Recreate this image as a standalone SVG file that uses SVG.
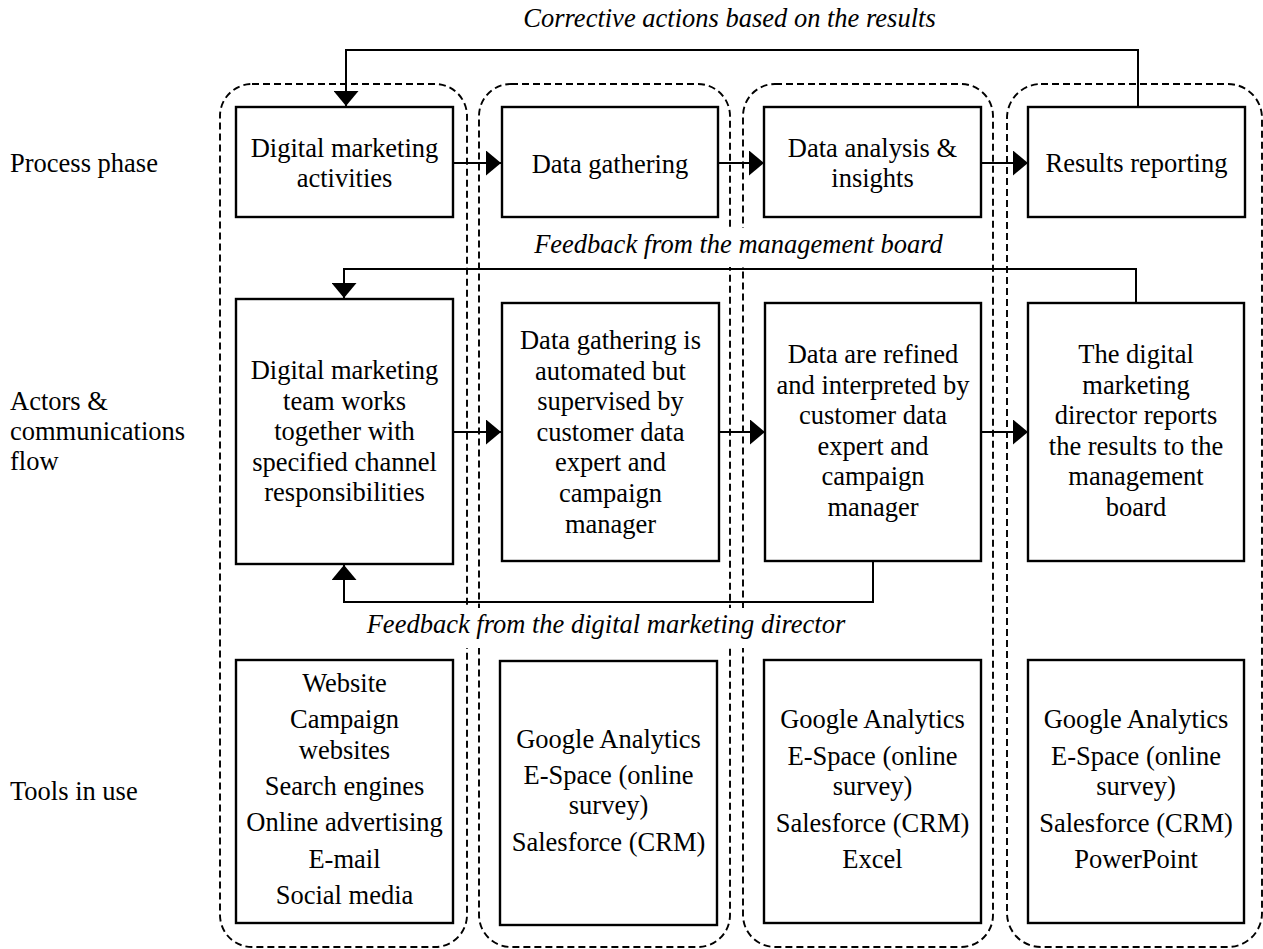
<svg xmlns="http://www.w3.org/2000/svg" width="1263" height="949" viewBox="0 0 1263 949">
<style>
text{font-family:"Liberation Serif","Times New Roman",serif;font-size:26.5px;fill:#000}
.c{text-anchor:middle}
.i{font-style:italic}
.grp{fill:none;stroke:#000;stroke-width:1.9;stroke-dasharray:7 4}
.box{fill:#fff;stroke:#000;stroke-width:2.4}
.con{fill:none;stroke:#000;stroke-width:2}
.bg{fill:#fff}
</style>
<defs>
<marker id="ah" viewBox="0 0 15 25" refX="15" refY="12.5" markerWidth="15" markerHeight="25" markerUnits="userSpaceOnUse" orient="auto">
<path d="M0,0 L15,12.5 L0,25 Z" fill="#000"/>
</marker>
</defs>
<rect width="1263" height="949" fill="#fff"/>

<g id="groups">
<rect id="g1" class="grp" x="220" y="84" width="247" height="863" rx="32" ry="32"/>
<rect id="g2" class="grp" x="479" y="84" width="251" height="863" rx="32" ry="32"/>
<rect id="g3" class="grp" x="743" y="84" width="250" height="863" rx="32" ry="32"/>
<rect id="g4" class="grp" x="1007" y="84" width="255" height="863" rx="34" ry="34"/>
</g>

<g id="row-labels">
<text x="10" y="172">Process phase</text>
<text x="10" y="410">Actors &amp;</text>
<text x="10" y="440">communications</text>
<text x="10" y="470">flow</text>
<text x="10" y="800">Tools in use</text>
</g>

<g id="connector-labels">
<text class="c i" x="729.5" y="27">Corrective actions based on the results</text>
<rect class="bg" x="528" y="228" width="422" height="39"/>
<text class="c i" x="738.5" y="253">Feedback from the management board</text>
<rect class="bg" x="360" y="608" width="492" height="40"/>
<text class="c i" x="606" y="633">Feedback from the digital marketing director</text>
</g>

<g id="connectors">
<path class="con" d="M1138,107 V50 H346 V106" marker-end="url(#ah)"/>
<path class="con" d="M453,163 H501" marker-end="url(#ah)"/>
<path class="con" d="M718,163 H764" marker-end="url(#ah)"/>
<path class="con" d="M981,163 H1028" marker-end="url(#ah)"/>
<path class="con" d="M1136,303 V269 H344 V298" marker-end="url(#ah)"/>
<path class="con" d="M453,432 H501" marker-end="url(#ah)"/>
<path class="con" d="M719,432 H765" marker-end="url(#ah)"/>
<path class="con" d="M981,432 H1028" marker-end="url(#ah)"/>
<path class="con" d="M873,561 V602 H344 V565" marker-end="url(#ah)"/>
</g>

<g id="n-digital-marketing-activities">
<rect class="box" x="236" y="107" width="217" height="110"/>
<text class="c" x="344.5" y="157">Digital marketing</text>
<text class="c" x="344.5" y="187">activities</text>
</g>
<g id="n-data-gathering">
<rect class="box" x="502" y="107" width="216" height="110"/>
<text class="c" x="610" y="173">Data gathering</text>
</g>
<g id="n-data-analysis">
<rect class="box" x="764" y="107" width="217" height="110"/>
<text class="c" x="872.5" y="157">Data analysis &amp;</text>
<text class="c" x="872.5" y="187">insights</text>
</g>
<g id="n-results-reporting">
<rect class="box" x="1028" y="107" width="217" height="110"/>
<text class="c" x="1136.5" y="172">Results reporting</text>
</g>

<g id="n-team">
<rect class="box" x="236" y="299" width="217" height="265"/>
<text class="c" x="344.5" y="379">Digital marketing</text>
<text class="c" x="344.5" y="409.6">team works</text>
<text class="c" x="344.5" y="440.2">together with</text>
<text class="c" x="344.5" y="470.8">specified channel</text>
<text class="c" x="344.5" y="501.4">responsibilities</text>
</g>
<g id="n-gathering-automated">
<rect class="box" x="502" y="303" width="217" height="258"/>
<text class="c" x="610.5" y="349">Data gathering is</text>
<text class="c" x="610.5" y="379.6">automated but</text>
<text class="c" x="610.5" y="410.2">supervised by</text>
<text class="c" x="610.5" y="440.8">customer data</text>
<text class="c" x="610.5" y="471.4">expert and</text>
<text class="c" x="610.5" y="502">campaign</text>
<text class="c" x="610.5" y="532.6">manager</text>
</g>
<g id="n-refined">
<rect class="box" x="765" y="303" width="216" height="258"/>
<text class="c" x="873" y="363">Data are refined</text>
<text class="c" x="873" y="393.6">and interpreted by</text>
<text class="c" x="873" y="424.2">customer data</text>
<text class="c" x="873" y="454.8">expert and</text>
<text class="c" x="873" y="485.4">campaign</text>
<text class="c" x="873" y="516">manager</text>
</g>
<g id="n-director">
<rect class="box" x="1028" y="303" width="216" height="258"/>
<text class="c" x="1136" y="363">The digital</text>
<text class="c" x="1136" y="393.6">marketing</text>
<text class="c" x="1136" y="424.2">director reports</text>
<text class="c" x="1136" y="454.8">the results to the</text>
<text class="c" x="1136" y="485.4">management</text>
<text class="c" x="1136" y="516">board</text>
</g>

<g id="n-tools-1">
<rect class="box" x="236" y="660" width="217" height="263"/>
<text class="c" x="344.5" y="692">Website</text>
<text class="c" x="344.5" y="728">Campaign</text>
<text class="c" x="344.5" y="758.5">websites</text>
<text class="c" x="344.5" y="795">Search engines</text>
<text class="c" x="344.5" y="831">Online advertising</text>
<text class="c" x="344.5" y="867.5">E-mail</text>
<text class="c" x="344.5" y="903.5">Social media</text>
</g>
<g id="n-tools-2">
<rect class="box" x="500" y="661" width="217" height="264"/>
<text class="c" x="608.5" y="748">Google Analytics</text>
<text class="c" x="608.5" y="784">E-Space (online</text>
<text class="c" x="608.5" y="813.5">survey)</text>
<text class="c" x="608.5" y="850.5">Salesforce (CRM)</text>
</g>
<g id="n-tools-3">
<rect class="box" x="764" y="660" width="217" height="263"/>
<text class="c" x="872.5" y="728">Google Analytics</text>
<text class="c" x="872.5" y="764.5">E-Space (online</text>
<text class="c" x="872.5" y="795">survey)</text>
<text class="c" x="872.5" y="831.5">Salesforce (CRM)</text>
<text class="c" x="872.5" y="868">Excel</text>
</g>
<g id="n-tools-4">
<rect class="box" x="1028" y="660" width="216" height="263"/>
<text class="c" x="1136" y="728">Google Analytics</text>
<text class="c" x="1136" y="764.5">E-Space (online</text>
<text class="c" x="1136" y="795">survey)</text>
<text class="c" x="1136" y="831.5">Salesforce (CRM)</text>
<text class="c" x="1136" y="868">PowerPoint</text>
</g>
</svg>
